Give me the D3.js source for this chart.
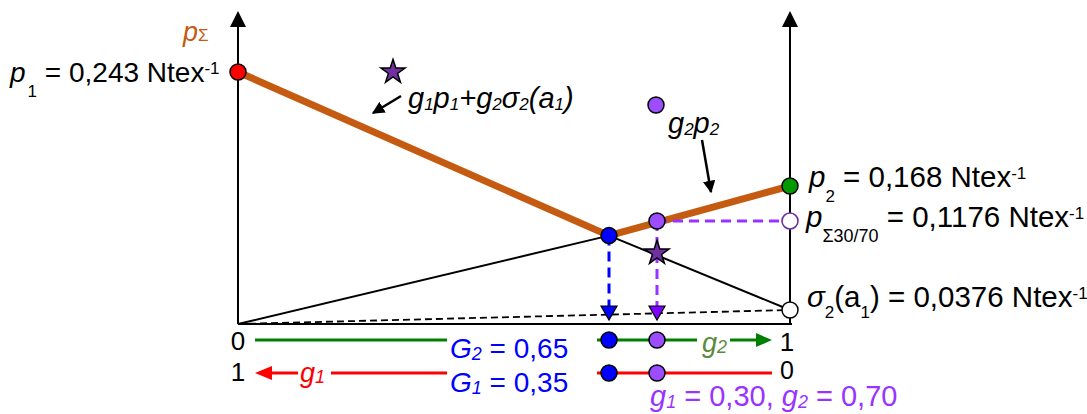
<!DOCTYPE html>
<html>
<head>
<meta charset="utf-8">
<script src="https://cdn.jsdelivr.net/npm/d3@7/dist/d3.min.js"></script>
<style>
  html, body { margin: 0; padding: 0; background: #fff; }
  svg { display: block; font-family: "Liberation Sans", Arial, sans-serif; }
</style>
</head>
<body>
<svg id="chart" width="1087" height="414"></svg>
<script>
// Breaking strengths of the two components (N/tex)
const p1 = 0.243;          // component 1
const p2 = 0.168;          // component 2
const sigma2 = 0.0376;     // stress in component 2 at the breaking strain of component 1
// Critical blend share and the 30/70 blend
const critShares = [0.65, 0.35];      // G2, G1
const mixShares = [0.30, 0.70];       // g1, g2
const critValue = 0.1092;             // strength at the critical share G2
const pSumMix = 0.1176;               // p_Σ of the 30/70 blend
const mixLineValue = 0.0992;          // g1·p1 + g2·σ2 at g2 = 0.70
const shareTicks = ["0", "1"];

// Lines of the diagram (x = share g2, y = strength)
const envelope  = [[0, p1], [critShares[0], critValue], [1, p2]];      // p_Σ
const g2p2Lower = [[0, 0], [critShares[0], critValue]];                // g2·p2 below the envelope
const mixTail   = [[critShares[0], critValue], [1, sigma2]];           // g1p1+g2σ2 below the envelope
const sigmaLine = [[0, 0], [1, sigma2]];                               // g2·σ2

const svg = d3.select("#chart");
const FONT = 28, SMALL = 17;

// Schematic (piecewise) scales
const x = d3.scaleLinear()
  .domain([0, critShares[0], mixShares[1], 1])
  .range([238, 609, 657, 790]);
const y = d3.scaleLinear()
  .domain([0, sigma2, mixLineValue, pSumMix, p2, p1])
  .range([324, 310, 253, 221, 186, 72]);

const line = d3.line().x(d => x(d[0])).y(d => y(d[1]));
const x0 = x(0), x1 = x(1), y0 = y(0);

// ---- axes ----
const axisTop = 26;
[x0, x1].forEach(ax => {
  svg.append("line").attr("x1", ax).attr("x2", ax).attr("y1", y0).attr("y2", axisTop)
    .attr("stroke", "#000").attr("stroke-width", 2);
  svg.append("path").attr("d", `M${ax},${axisTop - 15}L${ax + 8},${axisTop + 1}L${ax - 8},${axisTop + 1}Z`)
    .attr("fill", "#000");
});
svg.append("line").attr("x1", x0).attr("x2", x1 + 2).attr("y1", y0).attr("y2", y0)
  .attr("stroke", "#000").attr("stroke-width", 2);

// ---- lines ----
svg.append("path").attr("d", line(sigmaLine)).attr("fill", "none")
  .attr("stroke", "#000").attr("stroke-width", 1.8).attr("stroke-dasharray", "7,4");
svg.append("path").attr("d", line(g2p2Lower)).attr("fill", "none")
  .attr("stroke", "#000").attr("stroke-width", 2);
svg.append("path").attr("d", line(mixTail)).attr("fill", "none")
  .attr("stroke", "#000").attr("stroke-width", 2);
svg.append("path").attr("d", line(envelope)).attr("fill", "none")
  .attr("stroke", "#C55A11").attr("stroke-width", 7).attr("stroke-linejoin", "round");

// ---- projections ----
const triTop = y0 - 18;
function dropLine(g, v, color, triFill) {
  svg.append("line").attr("x1", x(g)).attr("x2", x(g)).attr("y1", y(v)).attr("y2", triTop)
    .attr("stroke", color).attr("stroke-width", 3).attr("stroke-dasharray", "10,6");
  svg.append("path")
    .attr("d", `M${x(g) - 8},${triTop}L${x(g) + 8},${triTop}L${x(g)},${triTop + 14}Z`)
    .attr("fill", triFill).attr("stroke", "#000").attr("stroke-width", 1.2);
}
dropLine(critShares[0], critValue, "#0000FF", "#0000FF");
dropLine(mixShares[1], pSumMix, "#9933FF", "#8000FF");
svg.append("line").attr("x1", x(mixShares[1])).attr("x2", x1 - 8)
  .attr("y1", y(pSumMix)).attr("y2", y(pSumMix))
  .attr("stroke", "#9933FF").attr("stroke-width", 3).attr("stroke-dasharray", "10,6");

// ---- points ----
function dot(cx, cy, fill, stroke, sw) {
  svg.append("circle").attr("cx", cx).attr("cy", cy).attr("r", 8)
    .attr("fill", fill).attr("stroke", stroke || "#000").attr("stroke-width", sw || 1.5);
}
const star = d3.symbol().type(d3.symbolStar).size(180);
function starAt(cx, cy) {
  svg.append("path").attr("d", star()).attr("transform", `translate(${cx},${cy})`)
    .attr("fill", "#7030A0").attr("stroke", "#000").attr("stroke-width", 1.5);
}
dot(x0, y(p1), "#FF0000");
dot(x1, y(p2), "#009A00");
dot(x1, y(pSumMix), "#fff", "#7030A0", 1.6);
dot(x1, y(sigma2), "#fff");
dot(x(critShares[0]), y(critValue), "#0000FF");
dot(x(mixShares[1]), y(pSumMix), "#9B4DFF");
starAt(x(mixShares[1]), y(mixLineValue));

// ---- rich text helper ----
function rich(tx, ty, parts, o = {}) {
  const t = svg.append("text").attr("x", tx).attr("y", ty)
    .attr("font-size", o.size || FONT).attr("fill", o.fill || "#000")
    .attr("text-anchor", o.anchor || "start");
  let shift = 0;
  parts.forEach(p => {
    const target = p.sub ? (p.dy ?? 14) : p.sup ? -(p.dy ?? 8) : 0;
    const s = t.append("tspan").text(p.t).attr("dy", target - shift);
    shift = target;
    if (p.it) s.attr("font-style", "italic");
    if (p.sub || p.sup || p.fs) s.attr("font-size", p.fs || SMALL);
    if (p.dx) s.attr("dx", p.dx);
    if (p.fill) s.attr("fill", p.fill);
  });
  return t;
}

// value labels
rich(10, 82, [{t: "p", it: true}, {t: "1", sub: true, dx: 2, dy: 15}, {t: " = 0,243 Ntex"}, {t: "-1", sup: true}]);
const RIGHT = {size: 29.5};
rich(809, 187, [{t: "p", it: true}, {t: "2", sub: true, dy: 15}, {t: " = 0,168 Ntex"}, {t: "-1", sup: true}], RIGHT);
rich(806, 227, [{t: "p", it: true}, {t: "Σ30/70", sub: true, dy: 15, fs: 18}, {t: " = 0,1176 Ntex"}, {t: "-1", sup: true}], RIGHT);
rich(807, 307, [{t: "σ", it: true}, {t: "2", sub: true, dy: 11}, {t: "(a"}, {t: "1", sub: true, dy: 11}, {t: ") = 0,0376 Ntex"}, {t: "-1", sup: true}], RIGHT);

// axis title
rich(183, 41, [{t: "p", it: true, fs: 27}, {t: "Σ", fs: 17}], {fill: "#C55A11"});

// annotations with arrows
const defs = svg.append("defs");
defs.append("marker").attr("id", "head").attr("viewBox", "0 0 10 10")
  .attr("refX", 9).attr("refY", 5).attr("markerWidth", 5).attr("markerHeight", 5)
  .attr("orient", "auto").attr("markerUnits", "strokeWidth")
  .append("path").attr("d", "M0,0L10,5L0,10Z").attr("fill", "#000");

starAt(393, 72);
rich(408, 108, [{t: "g", it: true}, {t: "1", it: true, sub: true, dy: 2}, {t: "p", it: true},
  {t: "1", it: true, sub: true, dy: 2}, {t: "+g", it: true}, {t: "2", it: true, sub: true, dy: 2},
  {t: "σ", it: true}, {t: "2", it: true, sub: true, dy: 2}, {t: "(a", it: true},
  {t: "1", it: true, sub: true, dy: 2}, {t: ")", it: true}], {size: 29});
svg.append("line").attr("x1", 401).attr("y1", 96).attr("x2", 373).attr("y2", 113)
  .attr("stroke", "#000").attr("stroke-width", 2.5).attr("marker-end", "url(#head)");

dot(656, 105, "#9B4DFF");
rich(668, 133, [{t: "g", it: true}, {t: "2", it: true, sub: true, dy: 2}, {t: "p", it: true},
  {t: "2", it: true, sub: true, dy: 2}], {size: 29});
svg.append("line").attr("x1", 702).attr("y1", 140).attr("x2", 711).attr("y2", 192)
  .attr("stroke", "#000").attr("stroke-width", 2.5).attr("marker-end", "url(#head)");

// ---- share scales under the axis ----
const rowG2 = 340, rowG1 = 373;
const seg = (xa, xb, yy, c) => svg.append("line").attr("x1", xa).attr("x2", xb)
  .attr("y1", yy).attr("y2", yy).attr("stroke", c).attr("stroke-width", 3);

// g2 row: 0 -> 1
seg(x0 + 17, 447, rowG2, "#008000");
seg(597, 697, rowG2, "#008000");
seg(730, x1 - 30, rowG2, "#008000");
svg.append("path").attr("d", `M${x1 - 34},${rowG2 - 7}L${x1 - 34},${rowG2 + 7}L${x1 - 18},${rowG2}Z`)
  .attr("fill", "#008000");
// g1 row: 1 <- 0
svg.append("path").attr("d", `M${x0 + 17},${rowG1}L${x0 + 34},${rowG1 - 7}L${x0 + 34},${rowG1 + 7}Z`)
  .attr("fill", "#FF0000");
seg(x0 + 30, 298, rowG1, "#FF0000");
seg(331, 447, rowG1, "#FF0000");
seg(597, x1 - 18, rowG1, "#FF0000");

// end ticks of the share scales
svg.append("text").attr("x", x0).attr("y", 350).attr("text-anchor", "middle").attr("font-size", 26).text(shareTicks[0]);
svg.append("text").attr("x", x0).attr("y", 381).attr("text-anchor", "middle").attr("font-size", 26).text(shareTicks[1]);
svg.append("text").attr("x", x1 - 3).attr("y", 351).attr("text-anchor", "middle").attr("font-size", 26).text(shareTicks[1]);
svg.append("text").attr("x", x1 - 3).attr("y", 379).attr("text-anchor", "middle").attr("font-size", 25).text(shareTicks[0]);

// shares marked on both rows
[rowG2, rowG1].forEach(r => {
  dot(x(critShares[0]), r, "#0000FF");
  dot(x(mixShares[1]), r, "#9B4DFF");
});

rich(702, 352, [{t: "g", it: true}, {t: "2", it: true, sub: true, dy: 1, fs: 18}], {fill: "#5A8A3C", size: 27});
rich(300, 382, [{t: "g", it: true}, {t: "1", it: true, sub: true, dy: 1, fs: 18}], {fill: "#FF0000", size: 27});

const fmt = v => d3.format(".2f")(v).replace(".", ",");
rich(450, 358, [{t: "G", it: true}, {t: "2", it: true, sub: true, dy: 2, fs: 18}, {t: " = " + fmt(critShares[0])}], {fill: "#0000FF", size: 28});
rich(450, 392, [{t: "G", it: true}, {t: "1", it: true, sub: true, dy: 2, fs: 18}, {t: " = " + fmt(critShares[1])}], {fill: "#0000FF", size: 28});
rich(650, 406, [{t: "g", it: true}, {t: "1", it: true, sub: true, dy: 2, fs: 18}, {t: " = " + fmt(mixShares[0]) + ", "},
  {t: "g", it: true}, {t: "2", it: true, sub: true, dy: 2, fs: 18}, {t: " = " + fmt(mixShares[1])}],
  {fill: "#9933FF", size: 29});
</script>
</body>
</html>
